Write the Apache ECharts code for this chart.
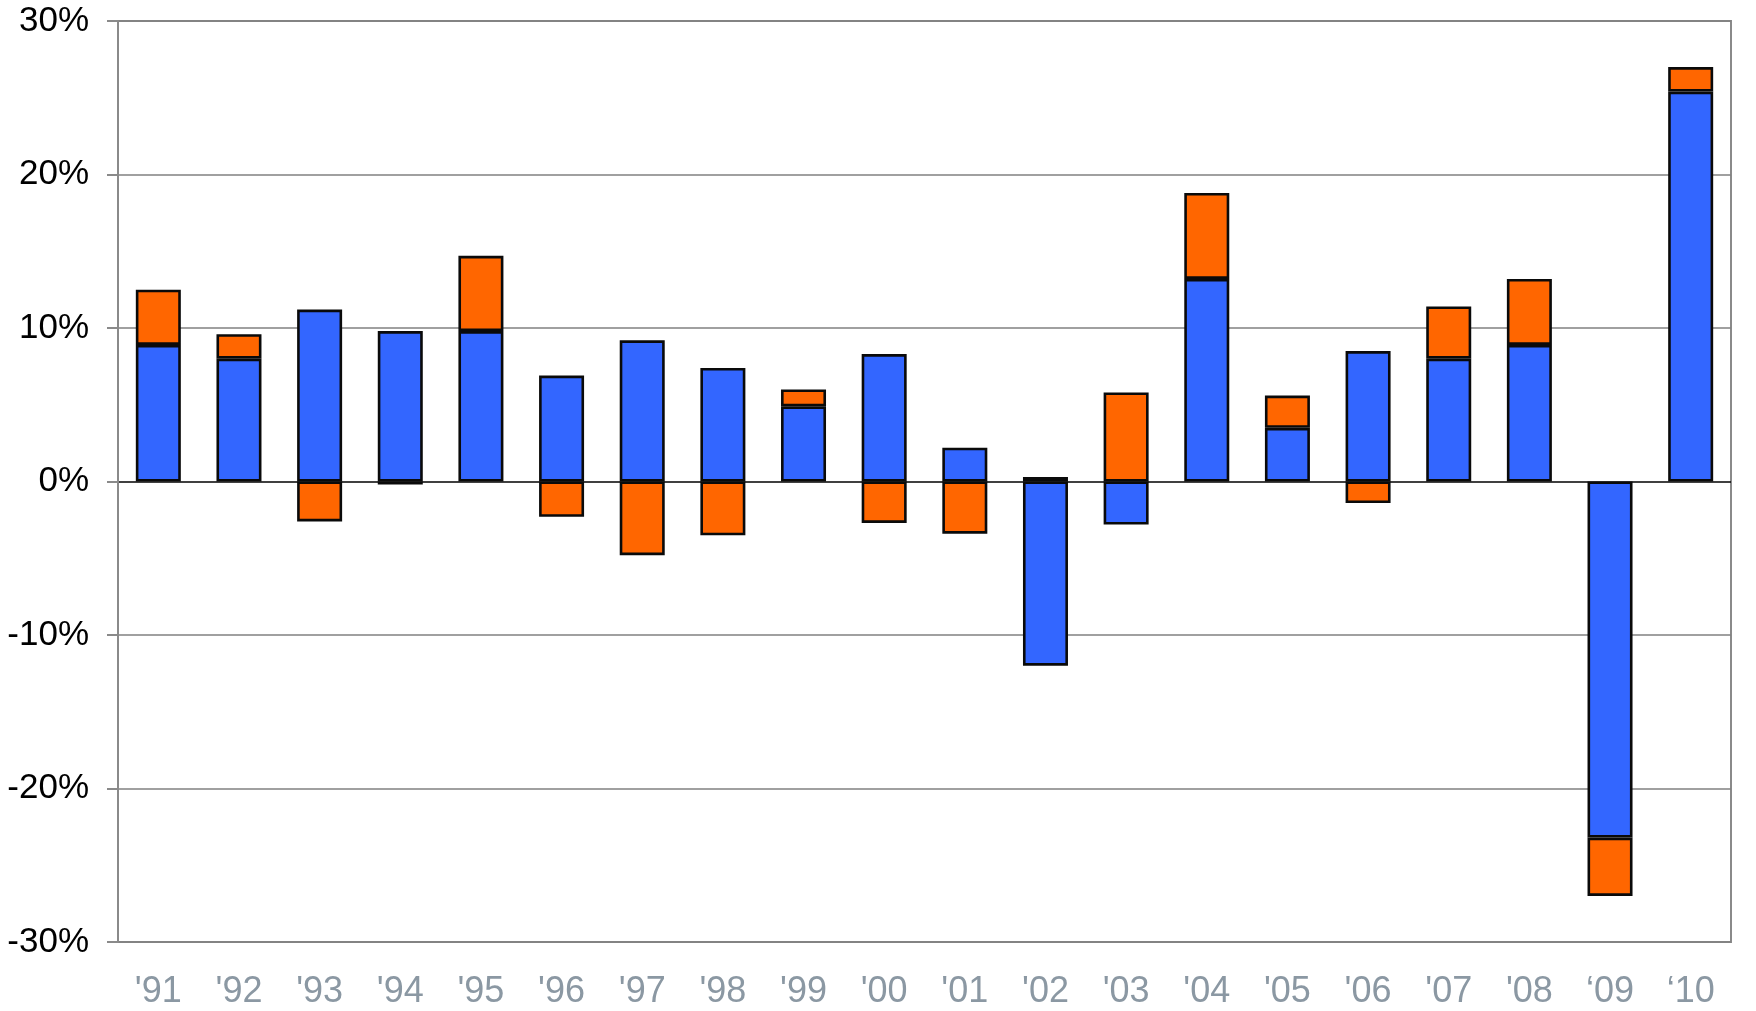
<!DOCTYPE html>
<html>
<head>
<meta charset="utf-8">
<script src="https://cdn.jsdelivr.net/npm/echarts@6/dist/echarts.min.js"></script>
<style>
  html, body { margin: 0; padding: 0; background: #ffffff; }
  #chart { width: 1756px; height: 1011px; }
</style>
</head>
<body>
<div id="chart"></div>
<script>
// Year labels along the bottom axis
const years = ["'91", "'92", "'93", "'94", "'95", "'96", "'97", "'98", "'99", "'00",
               "'01", "'02", "'03", "'04", "'05", "'06", "'07", "'08", "\u201809", "\u201810"];

// Blue component (%) per year
const blueValues = [8.9, 8.0, 11.2, 9.8, 9.8, 6.9, 9.2, 7.4, 4.9, 8.3,
                    2.2, -12.0, -2.8, 13.2, 3.5, 8.5, 8.0, 8.9, -23.2, 25.4];

// Orange component (%) per year, stacked on the blue one
const orangeValues = [3.6, 1.6, -2.6, -0.2, 4.9, -2.3, -4.8, -3.5, 1.1, -2.7,
                      -3.4, 0.3, 5.8, 5.6, 2.1, -1.4, 3.4, 4.3, -3.8, 1.6];

// Value axis ticks (%)
const yMin = -30, yMax = 30, yStep = 10;

const chart = echarts.init(document.getElementById('chart'), null, { renderer: 'canvas' });

const gridColor = '#8a8a8a';
const barBorder = { borderColor: '#0a0a0a', borderWidth: 2.6 };

chart.setOption({
  animation: false,
  backgroundColor: '#ffffff',
  grid: {
    left: 118, right: 25, top: 21, bottom: 69,
    show: true, borderColor: gridColor, borderWidth: 2, backgroundColor: 'transparent'
  },
  xAxis: {
    type: 'category',
    data: years,
    axisLine: { show: false, onZero: false },
    axisTick: { show: false },
    axisLabel: {
      color: '#8b98a3', fontSize: 36, margin: 32,
      fontFamily: 'Liberation Sans, Arial, sans-serif'
    },
    splitLine: { show: false }
  },
  yAxis: {
    type: 'value',
    min: yMin, max: yMax, interval: yStep,
    axisLine: { show: true, lineStyle: { color: gridColor, width: 2 } },
    axisTick: { show: true, inside: false, length: 11, lineStyle: { color: gridColor, width: 2 } },
    axisLabel: {
      color: '#000000', fontSize: 35, margin: 29,
      fontFamily: 'Liberation Sans, Arial, sans-serif',
      formatter: v => v + '%'
    },
    splitLine: {
      show: true,
      lineStyle: {
        // the zero line is drawn darker than the other gridlines
        color: ['#808080', '#808080', '#808080', '#000000', '#808080', '#808080', '#808080'],
        width: 1.5
      }
    }
  },
  series: [
    {
      name: 'blue',
      type: 'bar',
      stack: 'total',
      data: blueValues,
      barWidth: 45,
      itemStyle: Object.assign({ color: '#3366ff' }, barBorder)
    },
    {
      name: 'orange',
      type: 'bar',
      stack: 'total',
      data: orangeValues,
      barWidth: 45,
      itemStyle: Object.assign({ color: '#ff6600' }, barBorder)
    }
  ]
});
</script>
</body>
</html>
